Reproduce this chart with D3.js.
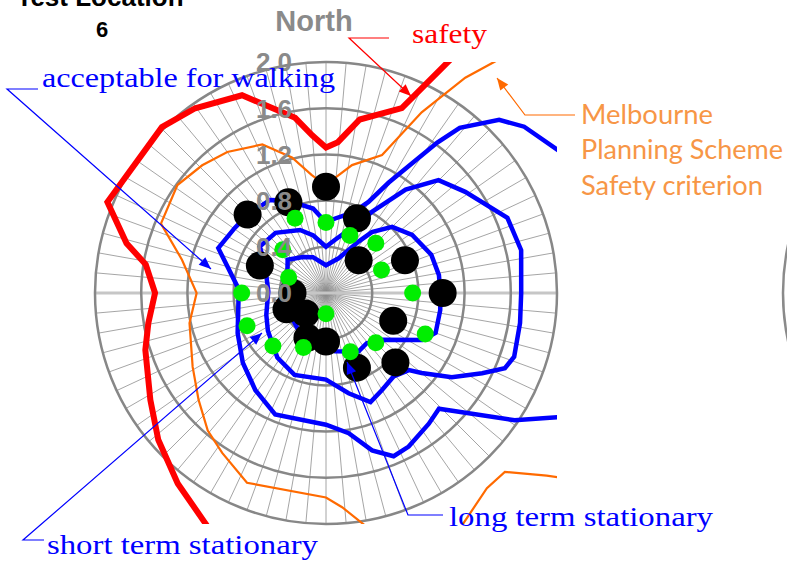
<!DOCTYPE html>
<html><head><meta charset="utf-8">
<script src="https://cdn.jsdelivr.net/npm/d3@7"></script>
<style>
html,body{margin:0;padding:0;background:#fff;overflow:hidden;}
svg{display:block;}
</style></head><body>
<svg id="chart" width="787" height="566"></svg>
<script>
// ---- radial axis ----
const radialTicks = [0, 0.4, 0.8, 1.2, 1.6, 2.0];
const tickLabels = ["0.0", "0.4", "0.8", "1.2", "1.6", "2.0"];
const spokeStep = 5; // degrees between spokes

// ---- measured points, 16 wind directions ----
const pointDirs = [0, 22.5, 45, 67.5, 90, 112.5, 135, 157.5, 180, 202.5, 225, 247.5, 270, 292.5, 315, 337.5];
const blackValues = [0.92, 0.70, 0.40, 0.74, 1.01, 0.63, 0.85, 0.70, 0.42, 0.42, 0.25, 0.37, 0.29, 0.62, 0.96, 0.85];
const greenValues = [0.61, 0.54, 0.61, 0.52, 0.75, 0.93, 0.61, 0.55, 0.18, 0.51, 0.65, 0.74, 0.73, 0.35, 0.53, 0.70];

// ---- criterion contours (direction in degrees, value) ----
const safetyDirs = [0, 4.5, 11, 22.3, 30, 45, 90, 135, 180, 200, 207.7, 217.9, 228.8, 238.7, 252.5, 260.4, 270, 279, 284, 292.6, 315.3, 324.7, 337, 350, 355];
const safetyValues = [1.26, 1.31, 1.53, 1.73, 2.58, 3.0, 2.7, 3.0, 2.6, 2.45, 2.25, 2.09, 1.93, 1.78, 1.64, 1.56, 1.48, 1.58, 1.78, 2.05, 2.02, 1.96, 1.86, 1.54, 1.37];

const melbourneDirs = [0, 4.5, 11.5, 22.1, 27.9, 32.9, 36, 40, 45, 90, 122, 129.6, 135, 140.5, 149.6, 160, 170.5, 175.7, 180, 202.6, 213, 220.7, 230, 241, 257.6, 270, 283, 292.8, 306, 315.9, 325, 336.8, 345.9, 353];
const melbourneValues = [0.93, 1.00, 1.13, 1.29, 1.77, 2.22, 2.47, 2.9, 3.2, 3.0, 3.2, 2.48, 2.19, 2.19, 2.33, 2.35, 2.04, 1.86, 1.77, 1.78, 1.65, 1.57, 1.44, 1.32, 1.21, 1.12, 1.28, 1.55, 1.59, 1.54, 1.49, 1.40, 1.21, 1.03];

const walkingDirs = [0, 7, 19, 25, 29.6, 36.5, 39, 45, 50, 65, 90, 112, 124, 135.7, 141.8, 151.7, 157.5, 163.7, 170.8, 180, 202.7, 216, 230, 245.6, 265.5, 273, 292.6, 305.5, 315, 329, 337.2, 351.3];
const walkingValues = [0.61, 0.65, 0.74, 0.87, 1.10, 1.62, 1.84, 2.12, 2.24, 2.50, 2.6, 2.77, 1.97, 1.40, 1.44, 1.51, 1.53, 1.42, 1.23, 1.14, 1.14, 1.04, 0.94, 0.84, 0.76, 0.76, 1.01, 0.97, 0.96, 0.94, 0.87, 0.74];

const shortTermDirs = [0, 10, 19.8, 29.6, 37.6, 44.9, 54, 67.5, 77.6, 90, 98.8, 108.7, 112.8, 117.2, 123.8, 129.9, 132.9, 141, 150, 157.8, 167.3, 180, 201, 217, 237, 250, 272, 296, 305, 320, 337.6, 347.6];
const shortTermValues = [0.40, 0.47, 0.58, 0.81, 1.13, 1.38, 1.49, 1.70, 1.73, 1.69, 1.70, 1.72, 1.68, 1.52, 1.31, 1.08, 0.98, 0.93, 0.97, 1.02, 0.89, 0.75, 0.76, 0.70, 0.60, 0.55, 0.50, 0.59, 0.70, 0.68, 0.59, 0.51];

const longTermDirs = [0, 20, 32.5, 37, 45, 56, 70, 81, 90, 98.5, 110, 116, 130, 141, 151, 171, 185, 200, 217, 240, 270, 291.5, 311, 327.4, 340];
const longTermValues = [0.24, 0.32, 0.53, 0.66, 0.81, 0.90, 0.97, 0.99, 0.99, 1.00, 1.01, 0.93, 0.63, 0.56, 0.58, 0.51, 0.42, 0.42, 0.40, 0.36, 0.33, 0.36, 0.44, 0.37, 0.33];

// ---- layout ----
const cx = 326, cy = 293, R = 231;
const svg = d3.select("#chart");
const rScale = d3.scaleLinear().domain([0, 2]).range([0, R]);
const rad = d => d * Math.PI / 180;
const polar = (deg, v) => [cx + rScale(v) * Math.sin(rad(deg)), cy - rScale(v) * Math.cos(rad(deg))];

svg.append("defs").append("clipPath").attr("id", "plotClip")
  .append("rect").attr("x", cx - R).attr("y", cy - R).attr("width", 2 * R).attr("height", 2 * R);

// neighbouring chart edge
svg.append("circle").attr("cx", cx + 688).attr("cy", cy).attr("r", R)
  .attr("fill", "none").attr("stroke", "#8a8a8a").attr("stroke-width", 2.5);

const grid = svg.append("g").attr("transform", `translate(${cx},${cy})`);
// spokes
grid.selectAll("line.spoke").data(d3.range(0, 360, spokeStep)).join("line")
  .attr("class", "spoke")
  .attr("x1", 0).attr("y1", 0)
  .attr("x2", d => R * Math.sin(rad(d))).attr("y2", d => -R * Math.cos(rad(d)))
  .attr("stroke", "#8e8e8e").attr("stroke-width", 0.8);
// horizontal axis
grid.append("line").attr("x1", -R).attr("x2", R).attr("y1", 0).attr("y2", 0)
  .attr("stroke", "#c6c6c6").attr("stroke-width", 3);
// rings
grid.selectAll("circle.ring").data(radialTicks.filter(t => t > 0)).join("circle")
  .attr("class", "ring").attr("r", d => rScale(d))
  .attr("fill", "none").attr("stroke", "#878787").attr("stroke-width", 2.5);

// contours
const lineGen = d3.lineRadial().curve(d3.curveLinearClosed)
  .angle(d => rad(d[0])).radius(d => rScale(d[1]));
const zipDV = (dirs, vals) => dirs.map((d, i) => [d, vals[i]]);
const lines = svg.append("g").attr("clip-path", "url(#plotClip)")
  .append("g").attr("transform", `translate(${cx},${cy})`);
const series = [
  { dirs: melbourneDirs, vals: melbourneValues, color: "#ff6a00", w: 2.2 },
  { dirs: walkingDirs, vals: walkingValues, color: "#0000ff", w: 4.5 },
  { dirs: shortTermDirs, vals: shortTermValues, color: "#0000ff", w: 4.5 },
  { dirs: longTermDirs, vals: longTermValues, color: "#0000ff", w: 4.5 },
  { dirs: safetyDirs, vals: safetyValues, color: "#ff0000", w: 6 }
];
lines.selectAll("path").data(series).join("path")
  .attr("d", s => lineGen(zipDV(s.dirs, s.vals)))
  .attr("fill", "none").attr("stroke", s => s.color).attr("stroke-width", s => s.w)
  .attr("stroke-linejoin", "miter");

// measured points
svg.append("g").selectAll("circle").data(zipDV(pointDirs, blackValues)).join("circle")
  .attr("cx", d => polar(d[0], d[1])[0]).attr("cy", d => polar(d[0], d[1])[1])
  .attr("r", 14).attr("fill", "#000");
svg.append("g").selectAll("circle").data(zipDV(pointDirs, greenValues)).join("circle")
  .attr("cx", d => polar(d[0], d[1])[0]).attr("cy", d => polar(d[0], d[1])[1])
  .attr("r", 8.5).attr("fill", "#00ee00");

// radial tick labels
svg.append("g").selectAll("text").data(radialTicks).join("text")
  .attr("x", cx - 52).attr("y", d => cy - rScale(d))
  .attr("dy", "0.36em").attr("text-anchor", "middle")
  .attr("font-family", "Liberation Sans, Arial, sans-serif").attr("font-weight", "bold")
  .attr("font-size", 26).attr("fill", "#8a8a8a")
  .text((d, i) => tickLabels[i]);

svg.append("text").attr("x", 314).attr("y", 31).attr("text-anchor", "middle")
  .attr("font-family", "Liberation Sans, Arial, sans-serif").attr("font-weight", "bold")
  .attr("font-size", 29).attr("fill", "#8a8a8a").text("North");

// title
const title = svg.append("g").attr("font-family", "Liberation Sans, Arial, sans-serif")
  .attr("font-weight", "bold").attr("fill", "#000").attr("text-anchor", "middle");
title.append("text").attr("x", 100).attr("y", 6).attr("font-size", 26).text("Test Location");
title.append("text").attr("x", 102).attr("y", 37).attr("font-size", 22).text("6");

// annotations with leader arrows
function leader(pts, color) {
  svg.append("polyline").attr("points", pts.map(p => p.join(",")).join(" "))
    .attr("fill", "none").attr("stroke", color).attr("stroke-width", 1.2);
  const [x0, y0] = pts[pts.length - 2], [x1, y1] = pts[pts.length - 1];
  const a = Math.atan2(y1 - y0, x1 - x0), L = 12, W = 5;
  const bx = x1 - L * Math.cos(a), by = y1 - L * Math.sin(a);
  svg.append("polygon").attr("fill", color).attr("points", [
    [x1, y1], [bx + W * Math.sin(a), by - W * Math.cos(a)], [bx - W * Math.sin(a), by + W * Math.cos(a)]
  ].map(p => p.join(",")).join(" "));
}
function label(txt, x, y, len, color, family, size) {
  svg.append("text").attr("x", x).attr("y", y).attr("fill", color)
    .attr("font-family", family).attr("font-size", size)
    .attr("textLength", len).attr("lengthAdjust", "spacingAndGlyphs").text(txt);
}
const serif = "Liberation Serif, Times New Roman, serif";
const sans = "Lato, Open Sans, sans-serif";

leader([[389, 38], [349, 38], [411, 96]], "#ff0000");
label("safety", 412, 43, 75, "#ff0000", serif, 28);

leader([[38, 89], [7, 89], [211, 269]], "#0000ff");
label("acceptable for walking", 42, 87, 293, "#0000ff", serif, 28);

leader([[44, 540], [23, 540], [262, 333]], "#0000ff");
label("short term stationary", 47, 554, 271, "#0000ff", serif, 28);

leader([[443, 515], [408, 515], [347, 362]], "#0000ff");
label("long term stationary", 449, 526, 264, "#0000ff", serif, 28);

leader([[575, 115], [525, 115], [497, 78]], "#ff6a00");
label("Melbourne", 581, 124, 132, "#f79646", sans, 27);
label("Planning Scheme", 581, 159, 202, "#f79646", sans, 27);
label("Safety criterion", 581, 195, 182, "#f79646", sans, 27);
</script>
</body></html>
